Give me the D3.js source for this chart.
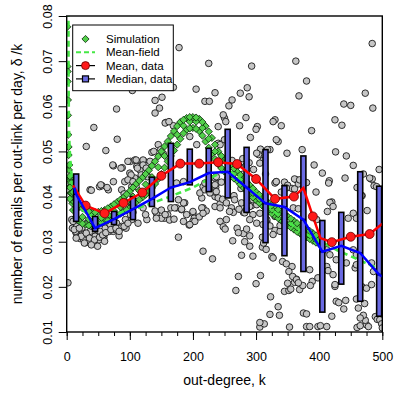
<!DOCTYPE html>
<html>
<head>
<meta charset="utf-8">
<script src="https://d3js.org/d3.v7.min.js"></script>
<style>
  html, body { margin: 0; padding: 0; background: #fff; }
  svg text { font-family: 'Liberation Sans', Arial, sans-serif; fill: #000; }
</style>
</head>
<body>
<div id="chart"></div>
<script>
  'use strict';

  // Axis ticks.
  var xTicks = [0, 100, 200, 300, 400, 500];
  var xMinorTicks = d3.range(0, 501, 25);
  var yTicks = [0.01, 0.02, 0.03, 0.04, 0.05, 0.06, 0.07, 0.08];

  // Data points (out-degree k, emails per out-link per day).
  var scatter = [
    [178, 0.0730], [104, 0.0635], [169, 0.0642], [205, 0.0638], [151, 0.0620], [140, 0.0613], [147, 0.0596],
    [140, 0.0585], [79, 0.0594], [80, 0.0527], [43, 0.0553], [31, 0.0511], [62, 0.0502], [157, 0.0564],
    [169, 0.0557], [135, 0.0498], [484, 0.0739], [225, 0.0695], [293, 0.0689], [363, 0.0700], [380, 0.0656],
    [368, 0.0623], [235, 0.0630], [219, 0.0611], [226, 0.0611], [262, 0.0614], [257, 0.0601], [275, 0.0629],
    [286, 0.0641], [289, 0.0621], [473, 0.0629], [439, 0.0605], [450, 0.0602], [485, 0.0596], [425, 0.0570],
    [436, 0.0558], [388, 0.0546], [330, 0.0570], [340, 0.0557], [284, 0.0575], [274, 0.0557], [302, 0.0555],
    [300, 0.0549], [291, 0.0531], [335, 0.0522], [250, 0.0574], [252, 0.0566], [248, 0.0581], [240, 0.0555],
    [156, 0.0563], [162, 0.0566], [145, 0.0515], [149, 0.0504], [138, 0.0500], [153, 0.0495], [195, 0.0533],
    [206, 0.0515], [240, 0.0518], [243, 0.0515], [250, 0.0526], [327, 0.0566], [332, 0.0526], [322, 0.0504],
    [307, 0.0505], [318, 0.0504], [304, 0.0493], [349, 0.0496], [373, 0.0504], [426, 0.0499], [443, 0.0490],
    [454, 0.0469], [405, 0.0452], [416, 0.0435], [441, 0.0441], [482, 0.0439], [487, 0.0424], [468, 0.0402],
    [74, 0.0468], [88, 0.0464], [101, 0.0478], [111, 0.0478], [122, 0.0479], [116, 0.0459], [100, 0.0452],
    [108, 0.0441], [127, 0.0448], [92, 0.0433], [103, 0.0422], [87, 0.0415], [108, 0.0481], [121, 0.0481],
    [111, 0.0467], [132, 0.0478], [121, 0.0470], [37, 0.0415], [52, 0.0422], [56, 0.0424], [66, 0.0415],
    [39, 0.0414], [64, 0.0420], [74, 0.0433], [91, 0.0406], [73, 0.0470], [86, 0.0463],
    [216, 0.0422], [214, 0.0397], [227, 0.0411], [235, 0.0400], [235, 0.0441], [237, 0.0428], [236, 0.0420],
    [235, 0.0410], [276, 0.0418], [265, 0.0402], [289, 0.0475], [279, 0.0484], [272, 0.0470], [283, 0.0467],
    [262, 0.0480], [330, 0.0430], [345, 0.0432], [350, 0.0425], [357, 0.0418], [340, 0.0410], [311, 0.0480],
    [296, 0.0460], [300, 0.0440], [315, 0.0450], [280, 0.0450], [255, 0.0440], [245, 0.0432], [395, 0.0410],
    [415, 0.0430], [392, 0.0470], [460, 0.0420], [470, 0.0450], [495, 0.0460], [332, 0.0433], [364, 0.0437],
    [367, 0.0428], [380, 0.0431], [361, 0.0417], [361, 0.0439], [369, 0.0437], [348, 0.0419], [359, 0.0375],
    [367, 0.0373], [420, 0.0388], [413, 0.0367], [446, 0.0352], [476, 0.0369], [484, 0.0439], [480, 0.0441],
    [467, 0.0402], [491, 0.0422], [396, 0.0349],
    [306, 0.0111], [313, 0.0118], [306, 0.0121], [353, 0.0111], [380, 0.0112], [385, 0.0112], [398, 0.0112],
    [402, 0.0114], [412, 0.0112], [420, 0.0135], [460, 0.0110], [465, 0.0114], [475, 0.0116], [473, 0.0126],
    [470, 0.0137], [465, 0.0131], [478, 0.0112], [489, 0.0134], [492, 0.0128], [496, 0.0127], [499, 0.0118],
    [500, 0.0109], [322, 0.0139], [335, 0.0156], [337, 0.0137], [323, 0.0178], [268, 0.0192], [272, 0.0223],
    [300, 0.0207], [307, 0.0225], [345, 0.0190], [352, 0.0192], [350, 0.0208], [361, 0.0210], [364, 0.0217],
    [369, 0.0194], [374, 0.0203], [389, 0.0212], [386, 0.0203], [375, 0.0142], [380, 0.0140], [425, 0.0201],
    [442, 0.0170], [439, 0.0151], [427, 0.0168], [431, 0.0165], [459, 0.0173], [472, 0.0163], [462, 0.0153],
    [468, 0.0200], [475, 0.0197], [483, 0.0205], [457, 0.0242], [459, 0.0249], [497, 0.0250], [498, 0.0235],
    [499, 0.0220], [216, 0.0279], [231, 0.0262], [282, 0.0300], [290, 0.0290], [280, 0.0318], [285, 0.0328],
    [277, 0.0270], [295, 0.0268], [310, 0.0310], [310, 0.0288], [316, 0.0283], [312, 0.0297], [325, 0.0267],
    [327, 0.0264], [317, 0.0345], [322, 0.0335], [330, 0.0325], [338, 0.0323], [338, 0.0336], [327, 0.0316],
    [342, 0.0256], [348, 0.0251], [357, 0.0245], [352, 0.0234], [358, 0.0223], [364, 0.0216], [367, 0.0209],
    [355, 0.0195], [385, 0.0238], [398, 0.0220], [412, 0.0245], [414, 0.0236], [422, 0.0227], [425, 0.0205],
    [412, 0.0282], [417, 0.0271], [427, 0.0260], [443, 0.0253], [454, 0.0282], [459, 0.0271], [483, 0.0253],
    [486, 0.0234], [417, 0.0387], [422, 0.0378], [454, 0.0363], [459, 0.0352], [497, 0.0350], [499, 0.0330],
    [498, 0.0310], [497, 0.0290], [499, 0.0280], [216, 0.0375], [221, 0.0368], [235, 0.0378], [243, 0.0384],
    [261, 0.0375], [264, 0.0365], [280, 0.0365], [293, 0.0380], [243, 0.0345], [248, 0.0333], [251, 0.0328],
    [270, 0.0330], [272, 0.0320], [290, 0.0313], [263, 0.0302],
    [2, 0.0209], [177, 0.0310], [194, 0.0337], [200, 0.0363], [202, 0.0352], [182, 0.0371], [174, 0.0375],
    [187, 0.0386], [155, 0.0352], [160, 0.0360], [163, 0.0348], [94, 0.0330], [83, 0.0313], [68, 0.0323],
    [8, 0.0349], [9, 0.0330], [17, 0.0324], [24, 0.0318], [32, 0.0312], [37, 0.0306], [30, 0.0298],
    [45, 0.0310], [53, 0.0313], [58, 0.0319], [47, 0.0327], [21, 0.0307], [15, 0.0319], [42, 0.0301],
    [59, 0.0310], [68, 0.0334], [79, 0.0341], [74, 0.0323], [87, 0.0334], [103, 0.0349], [113, 0.0341],
    [127, 0.0349], [142, 0.0363], [150, 0.0352], [11, 0.0345], [16, 0.0334], [24, 0.0330], [32, 0.0341],
    [29, 0.0319], [37, 0.0323], [45, 0.0312], [53, 0.0323], [58, 0.0312], [22, 0.0312], [14, 0.0323],
    [40, 0.0334], [61, 0.0330], [69, 0.0338], [77, 0.0327], [85, 0.0330], [93, 0.0349], [101, 0.0360],
    [27, 0.0304], [35, 0.0301], [51, 0.0304], [103, 0.0382], [121, 0.0375], [105, 0.0365], [125, 0.0360],
    [140, 0.0368], [150, 0.0370], [165, 0.0375], [190, 0.0360], [200, 0.0345], [210, 0.0355], [185, 0.0345],
    [170, 0.0350],
    [142, 0.0352], [156, 0.0360], [171, 0.0375], [182, 0.0372], [185, 0.0386], [177, 0.0393], [200, 0.0367],
    [214, 0.0375], [216, 0.0363], [203, 0.0345], [195, 0.0338], [211, 0.0408], [219, 0.0415], [227, 0.0408],
    [237, 0.0411], [235, 0.0426], [240, 0.0397], [247, 0.0394], [253, 0.0386], [243, 0.0375], [258, 0.0367],
    [253, 0.0349], [266, 0.0393], [273, 0.0372], [277, 0.0386], [282, 0.0364], [290, 0.0400], [295, 0.0393],
    [306, 0.0393], [301, 0.0382], [290, 0.0378], [285, 0.0371], [295, 0.0360], [306, 0.0363], [317, 0.0367],
    [290, 0.0349], [301, 0.0341], [311, 0.0338], [317, 0.0349], [325, 0.0371], [330, 0.0356], [332, 0.0433],
    [306, 0.0474], [301, 0.0496], [174, 0.0430], [185, 0.0433], [219, 0.0430], [237, 0.0444],
    [97, 0.0478], [110, 0.0481], [112, 0.0463], [126, 0.0463], [102, 0.0448], [97, 0.0437], [105, 0.0433],
    [118, 0.0448], [128, 0.0444], [54, 0.0426], [110, 0.0422],
    [10, 0.0345], [12, 0.0327], [20, 0.0330], [23, 0.0312], [31, 0.0319], [36, 0.0308], [44, 0.0304],
    [52, 0.0310], [57, 0.0315], [62, 0.0320], [70, 0.0327], [78, 0.0330], [83, 0.0323], [91, 0.0334],
    [97, 0.0341], [15, 0.0308], [28, 0.0297], [39, 0.0293], [49, 0.0290], [60, 0.0301]
  ];

  // Simulation: band edges every 10 in k, three inner rows offset by 5.
  var simEdgeK = [10, 20, 30, 40, 50, 60, 70, 80, 90, 100, 110, 120, 130, 140, 150, 160, 170, 180, 190, 200,
    210, 220, 230, 240, 250, 260, 270, 280, 290, 300, 310, 320, 330, 340, 350, 360, 370, 380, 390, 400];
  var simLow = [0.0370, 0.0345, 0.0338, 0.0336, 0.0340, 0.0345, 0.0350, 0.0358, 0.0366, 0.0375,
    0.0388, 0.0398, 0.0410, 0.0428, 0.0450, 0.0478, 0.0502, 0.0528, 0.0548, 0.0552,
    0.0545, 0.0522, 0.0495, 0.0472, 0.0455, 0.0445, 0.0435, 0.0420, 0.0405, 0.0392,
    0.0380, 0.0368, 0.0357, 0.0347, 0.0337, 0.0327, 0.0318, 0.0310, 0.0302, 0.0295];
  var simHigh = [0.0410, 0.0380, 0.0370, 0.0365, 0.0366, 0.0370, 0.0378, 0.0388, 0.0398, 0.0412,
    0.0428, 0.0442, 0.0458, 0.0478, 0.0500, 0.0522, 0.0545, 0.0565, 0.0574, 0.0576,
    0.0572, 0.0556, 0.0530, 0.0500, 0.0480, 0.0468, 0.0455, 0.0440, 0.0425, 0.0410,
    0.0398, 0.0386, 0.0376, 0.0366, 0.0356, 0.0346, 0.0336, 0.0328, 0.0319, 0.0308];
  var simMidK = [5, 15, 25, 35, 45, 55, 65, 75, 85, 95, 105, 115, 125, 135, 145, 155, 165, 175, 185, 195,
    205, 215, 225, 235, 245, 255, 265, 275, 285, 295, 305, 315, 325, 335, 345, 355, 365, 375, 385, 395];
  var simMid = [0.0420, 0.0370, 0.0355, 0.0350, 0.0350, 0.0353, 0.0360, 0.0368, 0.0377, 0.0388,
    0.0400, 0.0413, 0.0427, 0.0443, 0.0465, 0.0490, 0.0512, 0.0537, 0.0557, 0.0566,
    0.0566, 0.0552, 0.0528, 0.0500, 0.0478, 0.0462, 0.0450, 0.0438, 0.0423, 0.0408,
    0.0395, 0.0383, 0.0371, 0.0361, 0.0351, 0.0341, 0.0332, 0.0323, 0.0315, 0.0306];
  var simMidLow = [0.0395, 0.0355, 0.0340, 0.0336, 0.0337, 0.0342, 0.0347, 0.0354, 0.0362, 0.0370,
    0.0381, 0.0393, 0.0404, 0.0419, 0.0439, 0.0464, 0.0490, 0.0515, 0.0540, 0.0551,
    0.0550, 0.0535, 0.0508, 0.0483, 0.0463, 0.0450, 0.0440, 0.0427, 0.0412, 0.0398,
    0.0386, 0.0374, 0.0362, 0.0352, 0.0342, 0.0332, 0.0322, 0.0314, 0.0306, 0.0298];
  var simMidHigh = [0.0445, 0.0392, 0.0374, 0.0367, 0.0365, 0.0368, 0.0374, 0.0383, 0.0393, 0.0405,
    0.0420, 0.0435, 0.0450, 0.0468, 0.0489, 0.0511, 0.0534, 0.0556, 0.0570, 0.0576,
    0.0575, 0.0565, 0.0544, 0.0515, 0.0490, 0.0474, 0.0462, 0.0448, 0.0432, 0.0418,
    0.0404, 0.0392, 0.0381, 0.0371, 0.0361, 0.0351, 0.0341, 0.0332, 0.0324, 0.0314];
  // Simulation points at the smallest out-degrees.
  var simNearZero = [[1, 0.0776], [1.2, 0.0688], [1.5, 0.0677], [1.5, 0.0655], [2, 0.0614], [2, 0.0580],
    [2.5, 0.0537], [3, 0.0510], [3, 0.0492], [3.5, 0.0459], [4, 0.0470], [4, 0.0437], [5, 0.0422],
    [5.5, 0.0441], [6, 0.0408], [7, 0.0430], [7, 0.0395], [8, 0.0408], [9, 0.0385], [11, 0.0389], [13, 0.0371]];

  // Mean-field curve.
  var meanFieldK = [2.6, 3, 3.5, 4.5, 6, 8, 11, 15, 20, 25, 35, 45, 60, 80, 100, 120, 140, 160, 180, 200,
    220, 240, 255, 270, 290, 310, 330, 350, 370, 390, 410, 430, 450, 470, 490, 500];
  var meanField = [0.0900, 0.0650, 0.0560, 0.0510, 0.0475, 0.0445, 0.0415, 0.0395, 0.0380, 0.0370,
    0.0360, 0.0355, 0.0355, 0.0362, 0.0371, 0.0378, 0.0388, 0.0398, 0.0409, 0.0420,
    0.0435, 0.0450, 0.0460, 0.0445, 0.0420, 0.0392, 0.0365, 0.0345, 0.0325, 0.0308,
    0.0295, 0.0280, 0.0268, 0.0255, 0.0243, 0.0238];

  // Mean of the data: markers, and the line through them with its extra vertices.
  var meanK = [30, 60, 90, 120, 150, 180, 210, 240, 270, 300, 330, 360, 390, 420, 450, 480];
  var meanY = [0.0380, 0.0363, 0.0386, 0.0409, 0.0446, 0.0473, 0.0473, 0.0476, 0.0472, 0.0439,
    0.0395, 0.0400, 0.0356, 0.0299, 0.0311, 0.0317];
  var meanExtra = [[10, 0.0425], [375, 0.0419], [402, 0.0308], [500, 0.0340]];

  // Median of the data per bin of 30, with quartile boxes.
  var binK = [15, 45, 75, 105, 135, 165, 195, 225, 255, 285, 315, 345, 375, 405, 435, 465, 495];
  var median = [0.0405, 0.0330, 0.0350, 0.0372, 0.0395, 0.0420, 0.0432, 0.0452, 0.0455, 0.0420,
    0.0385, 0.0377, 0.0349, 0.0278, 0.0291, 0.0275, 0.0227];
  var q1 = [0.0345, 0.0323, 0.0338, 0.0349, 0.0378, 0.0389, 0.0426, 0.0411, 0.0397, 0.0365,
    0.0298, 0.0269, 0.0234, 0.0144, 0.0206, 0.0168, 0.0135];
  var q3 = [0.0450, 0.0356, 0.0367, 0.0400, 0.0443, 0.0518, 0.0505, 0.0507, 0.0549, 0.0509,
    0.0504, 0.0424, 0.0490, 0.0347, 0.0365, 0.0455, 0.0423];
  var medianExtra = [[12, 0.0420], [500, 0.0223]];

  var legendLabels = ['Simulation', 'Mean-field', 'Mean, data', 'Median, data'];

  (function() {
    var width = 399;
    var height = 399;
    var plotLeft = 66.7, plotRight = 382.3, plotTop = 16, plotBottom = 332;

    var xScale = d3.scaleLinear().domain([0, 500]).range([plotLeft, plotRight]);
    var yScale = d3.scaleLinear().domain([0.01, 0.08]).range([plotBottom, plotTop]);

    var svg = d3.select('#chart')
      .append('svg')
      .attr('width', width)
      .attr('height', height);

    svg.append('defs')
      .append('clipPath')
      .attr('id', 'plot-clip')
      .append('rect')
      .attr('x', plotLeft)
      .attr('y', plotTop)
      .attr('width', plotRight - plotLeft)
      .attr('height', plotBottom - plotTop);

    var plot = svg.append('g').attr('clip-path', 'url(#plot-clip)');

    function diamond(r) {
      return 'M0,' + (-r) + 'L' + r + ',0L0,' + r + 'L' + (-r) + ',0Z';
    }

    // Gray data points.
    plot.append('g')
      .selectAll('circle')
      .data(scatter)
      .enter().append('circle')
      .attr('cx', function(d) { return xScale(d[0]); })
      .attr('cy', function(d) { return yScale(d[1]); })
      .attr('r', 3.3)
      .style('fill', '#c6c6c6')
      .style('stroke', '#1a1a1a')
      .style('stroke-width', 0.9);

    // Simulation diamonds.
    var simPoints = simNearZero.slice();
    simEdgeK.forEach(function(k, i) {
      simPoints.push([k, simLow[i]]);
      simPoints.push([k, simHigh[i]]);
    });
    simMidK.forEach(function(k, i) {
      simPoints.push([k, simMidLow[i]]);
      simPoints.push([k, simMid[i]]);
      simPoints.push([k, simMidHigh[i]]);
    });

    plot.append('g')
      .selectAll('path')
      .data(simPoints)
      .enter().append('path')
      .attr('d', diamond(3.6))
      .attr('transform', function(d) { return 'translate(' + xScale(d[0]) + ',' + yScale(d[1]) + ')'; })
      .style('fill', '#52d04a')
      .style('stroke', '#082808')
      .style('stroke-width', 0.8);

    var line = d3.line()
      .x(function(d) { return xScale(d[0]); })
      .y(function(d) { return yScale(d[1]); });

    // Mean-field dashed curve.
    plot.append('path')
      .datum(meanFieldK.map(function(k, i) { return [k, meanField[i]]; }))
      .attr('d', line)
      .style('fill', 'none')
      .style('stroke', '#45e845')
      .style('stroke-width', 2.6)
      .style('stroke-dasharray', '6,4');

    // Quartile boxes with the median tick.
    var boxW = 5;
    var boxes = plot.append('g')
      .selectAll('g')
      .data(binK)
      .enter().append('g');

    boxes.append('rect')
      .attr('x', function(k) { return xScale(k) - boxW / 2; })
      .attr('y', function(k, i) { return yScale(q3[i]); })
      .attr('width', boxW)
      .attr('height', function(k, i) { return yScale(q1[i]) - yScale(q3[i]); })
      .style('fill', '#6a6ae2')
      .style('stroke', '#000')
      .style('stroke-width', 1.6);

    boxes.append('line')
      .attr('x1', function(k) { return xScale(k) - boxW / 2; })
      .attr('x2', function(k) { return xScale(k) + boxW / 2; })
      .attr('y1', function(k, i) { return yScale(median[i]); })
      .attr('y2', function(k, i) { return yScale(median[i]); })
      .style('stroke', '#000')
      .style('stroke-width', 1.6);

    // Mean line and red markers.
    var meanPoints = meanK.map(function(k, i) { return [k, meanY[i]]; });
    var meanLine = meanPoints.concat(meanExtra).sort(function(a, b) { return a[0] - b[0]; });

    plot.append('path')
      .datum(meanLine)
      .attr('d', line)
      .style('fill', 'none')
      .style('stroke', '#ff0000')
      .style('stroke-width', 2.5);

    plot.append('g')
      .selectAll('circle')
      .data(meanPoints)
      .enter().append('circle')
      .attr('cx', function(d) { return xScale(d[0]); })
      .attr('cy', function(d) { return yScale(d[1]); })
      .attr('r', 4.5)
      .style('fill', '#ff1a1a')
      .style('stroke', '#600')
      .style('stroke-width', 0.8);

    // Median line.
    var medianLine = binK.map(function(k, i) { return [k, median[i]]; })
      .concat(medianExtra)
      .sort(function(a, b) { return a[0] - b[0]; });

    plot.append('path')
      .datum(medianLine)
      .attr('d', line)
      .style('fill', 'none')
      .style('stroke', '#0000ff')
      .style('stroke-width', 2.5);

    // Axes.
    var xAxis = d3.axisBottom(xScale).tickValues(xTicks).tickSize(8).tickFormat(d3.format('d'));
    var xMinor = d3.axisBottom(xScale).tickValues(xMinorTicks).tickSize(4).tickFormat('');
    var yAxis = d3.axisLeft(yScale).tickValues(yTicks).tickSize(8).tickFormat(d3.format('.2f'));

    var gx = svg.append('g')
      .attr('transform', 'translate(0,' + plotBottom + ')')
      .call(xAxis);
    gx.selectAll('text')
      .attr('y', 29)
      .attr('dy', 0)
      .style('font-size', '12.5px');

    svg.append('g')
      .attr('transform', 'translate(0,' + plotBottom + ')')
      .call(xMinor);

    var gy = svg.append('g')
      .attr('transform', 'translate(' + plotLeft + ',0)')
      .call(yAxis);
    gy.selectAll('text')
      .attr('x', 0)
      .attr('dy', 0)
      .attr('text-anchor', 'middle')
      .attr('transform', 'translate(-14.5,0) rotate(-90)')
      .style('font-size', '12.5px');

    svg.selectAll('.domain').remove();
    svg.selectAll('.tick line').style('stroke', '#000').style('stroke-width', 1);

    // Plot frame.
    svg.append('rect')
      .attr('x', plotLeft)
      .attr('y', plotTop)
      .attr('width', plotRight - plotLeft)
      .attr('height', plotBottom - plotTop)
      .style('fill', 'none')
      .style('stroke', '#000')
      .style('stroke-width', 1.4);

    // Axis titles.
    svg.append('text')
      .attr('text-anchor', 'middle')
      .attr('x', (plotLeft + plotRight) / 2)
      .attr('y', 385)
      .style('font-size', '14px')
      .text('out-degree, k');

    svg.append('text')
      .attr('text-anchor', 'middle')
      .attr('transform', 'translate(22,' + ((plotTop + plotBottom) / 2) + ') rotate(-90)')
      .style('font-size', '14px')
      .text('number of emails per out-link per day, \u03b4 /k');

    // Legend.
    var legend = svg.append('g');
    legend.append('rect')
      .attr('x', 72.7)
      .attr('y', 25)
      .attr('width', 100.6)
      .attr('height', 65.7)
      .style('fill', '#fff')
      .style('stroke', '#000')
      .style('stroke-width', 1);

    var rows = legend.selectAll('g.row')
      .data(legendLabels)
      .enter().append('g')
      .attr('class', 'row')
      .attr('transform', function(d, i) { return 'translate(0,' + (39 + i * 13.3) + ')'; });

    rows.append('text')
      .attr('x', 106)
      .attr('y', 4)
      .style('font-size', '11.5px')
      .text(function(d) { return d; });

    rows.filter(function(d, i) { return i === 0; })
      .append('path')
      .attr('d', diamond(3.6))
      .attr('transform', 'translate(85.5,0)')
      .style('fill', '#52d04a')
      .style('stroke', '#082808')
      .style('stroke-width', 0.8);

    rows.filter(function(d, i) { return i === 1; })
      .append('line')
      .attr('x1', 76).attr('x2', 95).attr('y1', 0).attr('y2', 0)
      .style('stroke', '#45e845')
      .style('stroke-width', 2)
      .style('stroke-dasharray', '5,3');

    var meanRow = rows.filter(function(d, i) { return i === 2; });
    meanRow.append('line')
      .attr('x1', 76).attr('x2', 95).attr('y1', 0).attr('y2', 0)
      .style('stroke', '#000')
      .style('stroke-width', 1.2);
    meanRow.append('circle')
      .attr('cx', 85.5).attr('cy', 0).attr('r', 4)
      .style('fill', '#ff1a1a')
      .style('stroke', '#600')
      .style('stroke-width', 0.8);

    var medRow = rows.filter(function(d, i) { return i === 3; });
    medRow.append('line')
      .attr('x1', 76).attr('x2', 95).attr('y1', 0).attr('y2', 0)
      .style('stroke', '#000')
      .style('stroke-width', 1.2);
    medRow.append('rect')
      .attr('x', 82.5).attr('y', -3).attr('width', 6).attr('height', 6)
      .style('fill', '#6a6ae2')
      .style('stroke', '#000')
      .style('stroke-width', 1.2);
  })();
</script>
</body>
</html>
